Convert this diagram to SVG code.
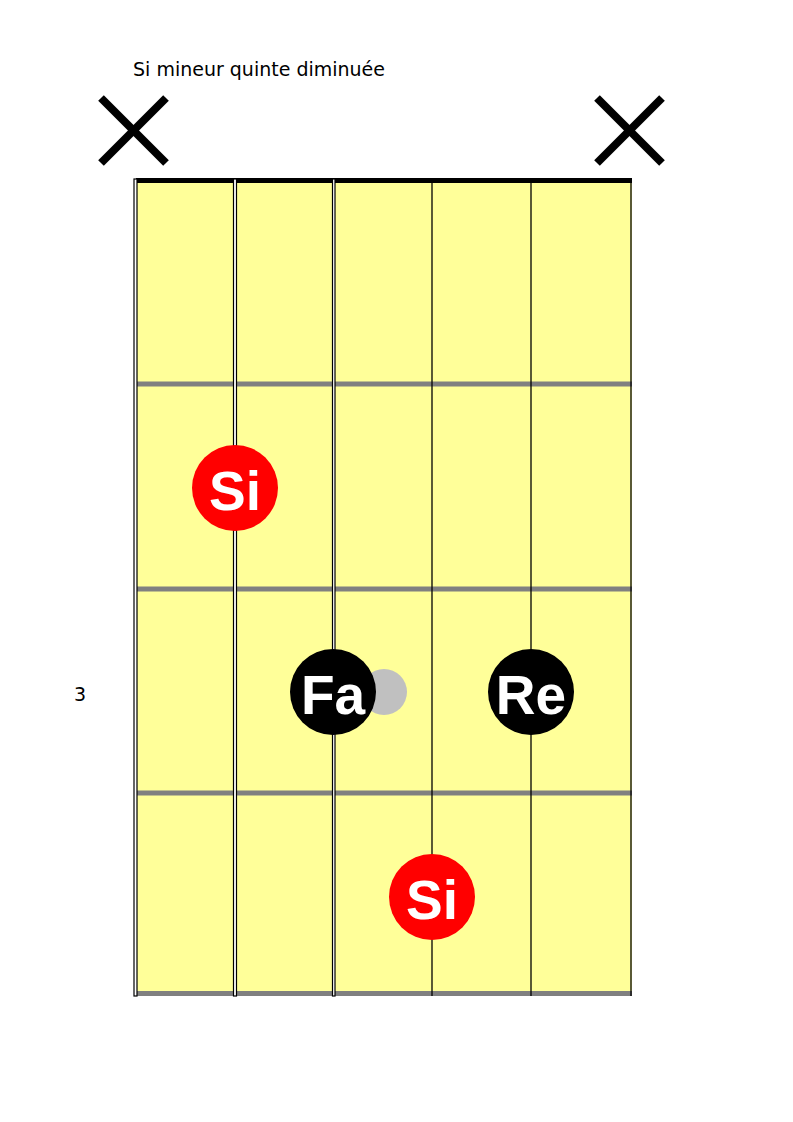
<svg xmlns="http://www.w3.org/2000/svg" width="793" height="1122" viewBox="0 0 793 1122">
<style>
.lbl{font-family:"DejaVu Sans",Verdana,sans-serif;font-size:19px;fill:#000}
.fret{stroke:#808080;stroke-width:5}
.thick{fill:#fff;stroke:#000;stroke-width:1.2}
.thin{stroke:#000;stroke-width:1.3}
.x{stroke:#000;stroke-width:8}
.note{font-family:"Liberation Sans",Arial,sans-serif;font-weight:bold;font-size:55px;fill:#fff;text-anchor:middle}
</style>
<rect width="793" height="1122" fill="#fff"/>
<text class="lbl" x="133" y="76">Si mineur quinte diminuée</text>
<text class="lbl" x="74" y="701">3</text>
<g id="mute1"><line class="x" x1="101" y1="98" x2="166" y2="163"/><line class="x" x1="166" y1="98" x2="101" y2="163"/></g>
<g id="mute6"><line class="x" x1="597" y1="98" x2="662" y2="163"/><line class="x" x1="662" y1="98" x2="597" y2="163"/></g>
<g id="board">
<rect x="136" y="181" width="496" height="813" fill="#ffff99"/>
<rect x="136" y="178" width="496" height="5" fill="#000"/>
<line class="fret" x1="136" y1="384" x2="632" y2="384"/>
<line class="fret" x1="136" y1="589" x2="632" y2="589"/>
<line class="fret" x1="136" y1="793" x2="632" y2="793"/>
<line class="fret" x1="136" y1="993.5" x2="632" y2="993.5"/>
</g>
<g id="strings">
<rect class="thick" x="134" y="179" width="3" height="817"/>
<rect class="thick" x="233.5" y="179" width="3" height="817"/>
<rect class="thick" x="332.5" y="179" width="2.5" height="817"/>
<line class="thin" x1="432" y1="181" x2="432" y2="996"/>
<line class="thin" x1="531" y1="181" x2="531" y2="996"/>
<line class="thin" x1="631" y1="181" x2="631" y2="996"/>
</g>
<g id="ghost"><circle cx="384" cy="692" r="23" fill="#c0c0c0"/></g>
<g id="n1"><circle cx="235" cy="488" r="43" fill="#ff0000"/><text class="note" x="235" y="510">Si</text></g>
<g id="n2"><circle cx="333" cy="692" r="43" fill="#000"/><text class="note" x="333" y="714">Fa</text></g>
<g id="n3"><circle cx="531" cy="692" r="43" fill="#000"/><text class="note" x="531" y="714">Re</text></g>
<g id="n4"><circle cx="432" cy="897" r="43" fill="#ff0000"/><text class="note" x="432" y="919">Si</text></g>
</svg>
